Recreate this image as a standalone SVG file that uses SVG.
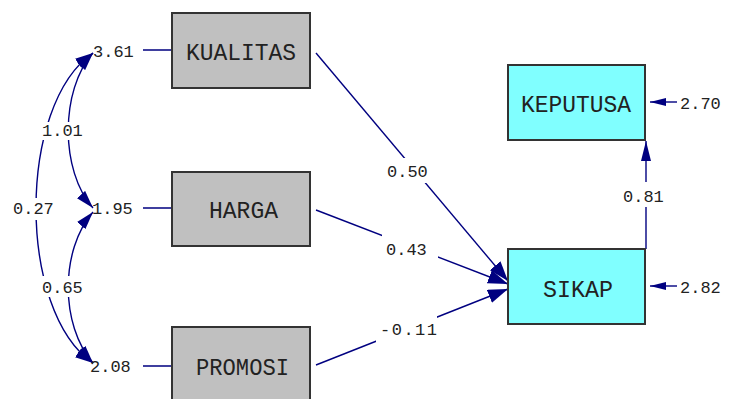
<svg xmlns="http://www.w3.org/2000/svg" width="729" height="399" viewBox="0 0 729 399">
<style>
.box{stroke:#333;stroke-width:2}
.obs{fill:#c0c0c0}
.lat{fill:#80ffff}
.name{font-family:"Liberation Mono","DejaVu Sans Mono",monospace;font-size:24px;fill:#222;text-anchor:middle}
.lbl{font-family:"Liberation Mono","DejaVu Sans Mono",monospace;font-size:17px;fill:#222}
.ln{fill:none;stroke:#000080;stroke-width:1.4}
</style>
<defs>
<marker id="ah" viewBox="0 0 20 14" refX="20" refY="7" markerWidth="20" markerHeight="14" markerUnits="userSpaceOnUse" orient="auto-start-reverse"><path d="M0,0 L20,7 L0,14 z" fill="#000080"/></marker>
<marker id="ac" viewBox="0 0 18 11" refX="18" refY="5.5" markerWidth="18" markerHeight="11" markerUnits="userSpaceOnUse" orient="auto-start-reverse"><path d="M0,0 L18,5.5 L0,11 z" fill="#000080"/></marker>
<marker id="as" viewBox="0 0 20 10" refX="20" refY="5" markerWidth="20" markerHeight="10" markerUnits="userSpaceOnUse" orient="auto"><path d="M0,0 L20,5 L0,10 z" fill="#000080"/></marker>
<marker id="ae" viewBox="0 0 16 8" refX="16" refY="4" markerWidth="16" markerHeight="8" markerUnits="userSpaceOnUse" orient="auto"><path d="M0,0 L16,4 L0,8 z" fill="#000080"/></marker>
<mask id="gaps" maskUnits="userSpaceOnUse" x="0" y="0" width="729" height="399">
<rect x="0" y="0" width="729" height="399" fill="white"/>
<rect x="38" y="122" width="52" height="18" fill="black"/>
<rect x="8" y="198" width="54" height="22" fill="black"/>
<rect x="38" y="276" width="52" height="21" fill="black"/>
<rect x="383" y="158" width="52" height="25" fill="black"/>
<rect x="382" y="228" width="56" height="34" fill="black"/>
<rect x="376" y="310" width="61" height="35" fill="black"/>
<rect x="615" y="182" width="60" height="25" fill="black"/>
</mask>
</defs>
<rect x="0" y="0" width="729" height="399" fill="#fff"/>
<g id="connectors" mask="url(#gaps)">
<path class="ln" d="M316,53 L508,281" marker-end="url(#ah)"/>
<path class="ln" d="M316,210 L508,284" marker-end="url(#ah)"/>
<path class="ln" d="M316,365 L508,289" marker-end="url(#ah)"/>
<path class="ln" d="M646,249 L646,141" marker-end="url(#as)"/>
<path class="ln" d="M677,102 L650,102" marker-end="url(#ae)"/>
<path class="ln" d="M677,286 L650,286" marker-end="url(#ae)"/>
<path class="ln" d="M143,50 L172,50 M143,208 L172,208 M143,366 L172,366"/>
<path class="ln" d="M93,53 C60,90 60,171 93,208" marker-start="url(#ac)" marker-end="url(#ac)"/>
<path class="ln" d="M93,53 C17,105 17,311 93,363" marker-start="url(#ac)" marker-end="url(#ac)"/>
<path class="ln" d="M93,212 C60,250 60,325 93,363" marker-start="url(#ac)" marker-end="url(#ac)"/>
</g>
<g id="KUALITAS"><rect class="box obs" x="172" y="13" width="138" height="75"/><text class="name" x="241" y="59.5" textLength="110" lengthAdjust="spacingAndGlyphs">KUALITAS</text></g>
<g id="HARGA"><rect class="box obs" x="172" y="172" width="138" height="74"/><text class="name" x="243.5" y="217.5" textLength="69" lengthAdjust="spacingAndGlyphs">HARGA</text></g>
<g id="PROMOSI"><rect class="box obs" x="172" y="327" width="138" height="75"/><text class="name" x="242.5" y="375" textLength="93" lengthAdjust="spacingAndGlyphs">PROMOSI</text></g>
<g id="KEPUTUSA"><rect class="box lat" x="508" y="65" width="137" height="75"/><text class="name" x="576" y="112" textLength="110" lengthAdjust="spacingAndGlyphs">KEPUTUSA</text></g>
<g id="SIKAP"><rect class="box lat" x="508" y="249" width="137" height="75"/><text class="name" x="578" y="296.5" textLength="70" lengthAdjust="spacingAndGlyphs">SIKAP</text></g>
<g id="labels">
<text class="lbl" x="93" y="57">3.61</text>
<text class="lbl" x="92" y="214">1.95</text>
<text class="lbl" x="90" y="372">2.08</text>
<text class="lbl" x="42" y="136">1.01</text>
<text class="lbl" x="13" y="214">0.27</text>
<text class="lbl" x="42" y="293">0.65</text>
<text class="lbl" x="387" y="177">0.50</text>
<text class="lbl" x="386" y="255">0.43</text>
<text class="lbl" x="380" y="335" textLength="57" lengthAdjust="spacing">-0.11</text>
<text class="lbl" x="623" y="202">0.81</text>
<text class="lbl" x="680" y="109">2.70</text>
<text class="lbl" x="680" y="293">2.82</text>
</g>
</svg>
